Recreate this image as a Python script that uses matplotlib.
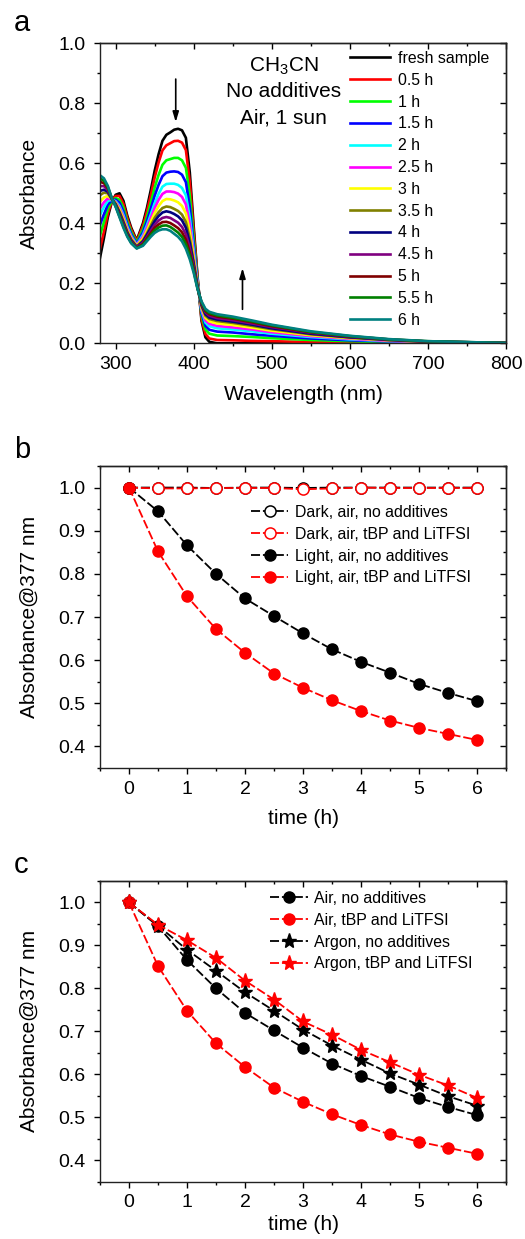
import matplotlib
matplotlib.use('Agg')
import matplotlib.pyplot as plt
from matplotlib.ticker import MultipleLocator

plt.rcParams['font.family'] = ['Liberation Sans', 'DejaVu Sans']
plt.rcParams['mathtext.fontset'] = 'custom'
plt.rcParams['mathtext.rm'] = 'Liberation Sans'
plt.rcParams['mathtext.it'] = 'Liberation Sans:italic'

# ---------------- data: panel a ----------------
wavelength = [280, 285, 290, 295, 300, 305, 310, 315, 320, 327, 335, 340, 345, 350, 355, 360, 365,
              370, 375, 380, 385, 390, 395, 400, 405, 410, 415, 420, 430, 450, 475, 500, 550, 600,
              650, 700, 800]
abs_fresh = [.285, .35, .42, .47, .495, .50, .475, .425, .385, .343, .40, .45, .51, .575, .63, .675, .695,
             .703, .712, .715, .71, .685, .57, .39, .22, .075, .02, .005, 0, 0, 0, 0, 0, 0, 0, 0, 0]
abs_0_5h = [.315, .372, .432, .472, .491, .491, .465, .417, .379, .340, .392, .438, .493, .552, .602, .643, .660,
            .667, .674, .675, .669, .644, .538, .373, .216, .082, .031, .016, .011, .010, .008, .007, .004, .003,
            .002, .001, .000]
abs_1h = [.359, .404, .448, .474, .484, .478, .451, .406, .371, .336, .380, .420, .468, .519, .561, .595, .610,
          .614, .618, .618, .610, .585, .492, .348, .209, .093, .046, .032, .026, .024, .021, .017, .011, .007,
          .004, .002, .000]
abs_1_5h = [.395, .430, .462, .476, .479, .468, .439, .397, .364, .332, .370, .406, .448, .492, .528, .557, .569,
            .572, .573, .571, .562, .537, .454, .328, .204, .101, .058, .045, .039, .036, .030, .025, .016, .010,
            .006, .003, .000]
abs_2h = [.428, .454, .475, .478, .474, .458, .428, .389, .358, .329, .361, .393, .429, .467, .498, .522, .531,
          .532, .532, .528, .518, .493, .419, .309, .199, .109, .069, .057, .050, .046, .040, .032, .021, .013,
          .007, .004, .001]
abs_2_5h = [.450, .470, .483, .479, .471, .452, .421, .383, .354, .327, .355, .384, .417, .451, .478, .498, .506,
            .506, .504, .499, .488, .463, .396, .297, .196, .114, .077, .065, .058, .053, .046, .037, .024, .015,
            .008, .004, .001]
abs_3h = [.472, .486, .491, .480, .468, .446, .414, .377, .350, .325, .349, .375, .405, .434, .457, .474, .481,
          .480, .476, .470, .458, .433, .373, .285, .193, .119, .085, .073, .066, .061, .052, .042, .027, .017,
          .010, .005, .001]
abs_3_5h = [.494, .502, .500, .481, .465, .439, .407, .372, .346, .323, .343, .366, .392, .418, .437, .451, .456,
            .454, .448, .441, .429, .404, .350, .272, .190, .124, .092, .081, .074, .068, .058, .047, .030, .019,
            .011, .005, .001]
abs_4h = [.508, .512, .505, .482, .463, .435, .402, .368, .343, .321, .339, .361, .384, .407, .424, .436, .440,
          .437, .431, .423, .410, .385, .335, .264, .188, .128, .097, .086, .079, .072, .062, .050, .032, .020,
          .011, .006, .001]
abs_4_5h = [.524, .524, .511, .483, .460, .430, .397, .364, .340, .320, .335, .354, .375, .395, .409, .418, .421,
            .418, .410, .402, .388, .363, .318, .255, .185, .132, .103, .092, .084, .077, .066, .054, .035, .022,
            .012, .006, .001]
abs_5h = [.538, .534, .517, .484, .458, .426, .392, .361, .337, .318, .331, .349, .367, .385, .396, .404, .405,
          .401, .393, .384, .370, .345, .303, .247, .183, .135, .107, .097, .089, .082, .070, .057, .037, .023,
          .013, .006, .001]
abs_5_5h = [.549, .542, .521, .484, .457, .423, .389, .358, .335, .317, .328, .344, .361, .376, .386, .392, .393,
            .388, .379, .369, .355, .330, .292, .241, .182, .137, .111, .101, .093, .085, .073, .060, .038, .024,
            .013, .007, .001]
abs_6h = [.56, .55, .525, .485, .455, .42, .385, .355, .333, .316, .325, .34, .355, .368, .376, .38, .38,
          .375, .365, .355, .34, .315, .28, .235, .18, .14, .115, .105, .097, .089, .076, .062, .04, .025,
          .014, .007, .001]

spectra = [abs_fresh, abs_0_5h, abs_1h, abs_1_5h, abs_2h, abs_2_5h, abs_3h, abs_3_5h, abs_4h,
           abs_4_5h, abs_5h, abs_5_5h, abs_6h]
spectra_labels = ['fresh sample', '0.5 h', '1 h', '1.5 h', '2 h', '2.5 h', '3 h', '3.5 h', '4 h',
                  '4.5 h', '5 h', '5.5 h', '6 h']
spectra_colors = ['#000000', '#FF0000', '#00FF00', '#0000FF', '#00FFFF', '#FF00FF', '#FFFF00',
                  '#808000', '#000080', '#800080', '#800000', '#008000', '#008080']

# ---------------- data: panels b, c ----------------
time_h = [0, 0.5, 1, 1.5, 2, 2.5, 3, 3.5, 4, 4.5, 5, 5.5, 6]
dark_air_none = [1.0, 1.0, 1.0, 0.999, 1.0, 1.0, 0.999, 1.0, 1.0, 1.0, 1.0, 1.0, 1.0]
dark_air_tbp = [1.0, 0.998, 0.998, 0.999, 0.999, 0.999, 0.996, 0.998, 1.0, 0.999, 0.999, 0.999, 0.999]
light_air_none = [1.0, 0.945, 0.866, 0.800, 0.743, 0.702, 0.662, 0.625, 0.596, 0.571, 0.545, 0.524, 0.505]
light_air_tbp = [1.0, 0.852, 0.748, 0.672, 0.617, 0.569, 0.536, 0.507, 0.482, 0.460, 0.443, 0.429, 0.415]
argon_none = [1.0, 0.946, 0.890, 0.841, 0.791, 0.748, 0.704, 0.667, 0.634, 0.602, 0.576, 0.549, 0.527]
argon_tbp = [1.0, 0.948, 0.912, 0.871, 0.818, 0.774, 0.723, 0.692, 0.657, 0.628, 0.599, 0.574, 0.545]

W, H = 525, 1239
fig = plt.figure(figsize=(W / 100, H / 100), dpi=100)

TICK_FS = 14
LABEL_FS = 15
LEG_FS = 11.4


def add_axes(left, top, right, bottom):
    return fig.add_axes([left / W, 1 - bottom / H, (right - left) / W, (bottom - top) / H])


def style_axes(ax, xmaj, xmin, ymaj, ymin, xpad=5):
    for s in ax.spines.values():
        s.set_linewidth(1.0)
        s.set_color('#222222')
    ax.xaxis.set_major_locator(MultipleLocator(xmaj))
    ax.xaxis.set_minor_locator(MultipleLocator(xmin))
    ax.yaxis.set_major_locator(MultipleLocator(ymaj))
    ax.yaxis.set_minor_locator(MultipleLocator(ymin))
    ax.tick_params(which='both', direction='out', labelsize=TICK_FS, width=1.0)
    ax.tick_params(which='major', length=4.5)
    ax.tick_params(which='minor', length=2.5)
    ax.tick_params(axis='y', pad=6)
    ax.tick_params(axis='x', pad=xpad)
    sx = ax.secondary_xaxis('top')
    sx.xaxis.set_major_locator(MultipleLocator(xmaj))
    sx.xaxis.set_minor_locator(MultipleLocator(xmin))
    sx.tick_params(which='both', direction='in', labeltop=False, width=1.0)
    sx.tick_params(which='major', length=4.5)
    sx.tick_params(which='minor', length=2.5)
    sy = ax.secondary_yaxis('right')
    sy.yaxis.set_major_locator(MultipleLocator(ymaj))
    sy.yaxis.set_minor_locator(MultipleLocator(ymin))
    sy.tick_params(which='both', direction='in', labelright=False, width=1.0)
    sy.tick_params(which='major', length=4.5)
    sy.tick_params(which='minor', length=2.5)
    for s in list(sx.spines.values()) + list(sy.spines.values()):
        s.set_linewidth(1.0)
        s.set_color('#222222')


# ---------------- panel a ----------------
axa = add_axes(100, 43.3, 506, 343.3)
for y, lab, col in zip(spectra, spectra_labels, spectra_colors):
    axa.plot(wavelength, y, color=col, lw=1.9, label=lab, solid_joinstyle='round')
axa.set_xlim(280, 800)
axa.set_ylim(0, 1.0)
style_axes(axa, 100, 50, 0.2, 0.1)
axa.set_xlabel('Wavelength (nm)', fontsize=LABEL_FS, labelpad=8)
axa.set_ylabel('Absorbance', fontsize=LABEL_FS, labelpad=14)
axa.legend(loc='upper left', bbox_to_anchor=(350 / W, 1 - 51 / H), bbox_transform=fig.transFigure,
           frameon=False, fontsize=LEG_FS, labelspacing=0.43, handlelength=2.5, handletextpad=0.55,
           borderpad=0, borderaxespad=0)
axa.text(515, 0.922, 'CH$_3$CN', fontsize=LABEL_FS, ha='center', va='center')
axa.text(515, 0.839, 'No additives', fontsize=LABEL_FS, ha='center', va='center')
axa.text(515, 0.752, 'Air, 1 sun', fontsize=LABEL_FS, ha='center', va='center')
axa.annotate('', xy=(377, 0.728), xytext=(377, 0.89),
             arrowprops=dict(arrowstyle='-|>,head_length=0.6,head_width=0.18', color='k', lw=1.2))
axa.annotate('', xy=(462.5, 0.26), xytext=(462.5, 0.104),
             arrowprops=dict(arrowstyle='-|>,head_length=0.6,head_width=0.18', color='k', lw=1.2))

DASH = (0, (5, 1.6))
MS = 8

# ---------------- panel b ----------------
axb = add_axes(100, 466, 506, 768)
axb.plot(time_h, dark_air_none, color='k', ls=DASH, lw=1.3, marker='o', ms=MS, mfc='white', mec='k',
         mew=1.1, label='Dark, air, no additives')
axb.plot(time_h, dark_air_tbp, color='#FF0000', ls=DASH, lw=1.3, marker='o', ms=MS, mfc='white',
         mec='#FF0000', mew=1.1, label='Dark, air, tBP and LiTFSI')
axb.plot(time_h, light_air_none, color='k', ls=DASH, lw=1.3, marker='o', ms=MS, mfc='k', mec='k',
         label='Light, air, no additives')
axb.plot(time_h, light_air_tbp, color='#FF0000', ls=DASH, lw=1.3, marker='o', ms=MS, mfc='#FF0000',
         mec='#FF0000', label='Light, air, tBP and LiTFSI')
axb.set_xlim(-0.5, 6.5)
axb.set_ylim(0.35, 1.05)
style_axes(axb, 1, 0.5, 0.1, 0.05)
axb.set_xlabel('time (h)', fontsize=LABEL_FS, labelpad=8)
axb.set_ylabel('Absorbance@377 nm', fontsize=LABEL_FS, labelpad=14)
axb.legend(loc='upper left', bbox_to_anchor=(251 / W, 1 - 505 / H), bbox_transform=fig.transFigure,
           frameon=False, fontsize=LEG_FS, labelspacing=0.43, handlelength=2.35, handletextpad=0.45,
           borderpad=0, borderaxespad=0)

# ---------------- panel c ----------------
axc = add_axes(100, 881, 506, 1181.7)
axc.plot(time_h, light_air_none, color='k', ls=DASH, lw=1.3, marker='o', ms=MS, mfc='k', mec='k',
         label='Air, no additives')
axc.plot(time_h, light_air_tbp, color='#FF0000', ls=DASH, lw=1.3, marker='o', ms=MS, mfc='#FF0000',
         mec='#FF0000', label='Air, tBP and LiTFSI')
axc.plot(time_h, argon_none, color='k', ls=DASH, lw=1.3, marker='*', ms=11, mfc='k', mec='k',
         label='Argon, no additives')
axc.plot(time_h, argon_tbp, color='#FF0000', ls=DASH, lw=1.3, marker='*', ms=11, mfc='#FF0000',
         mec='#FF0000', label='Argon, tBP and LiTFSI')
axc.set_xlim(-0.5, 6.5)
axc.set_ylim(0.35, 1.05)
style_axes(axc, 1, 0.5, 0.1, 0.05, xpad=4)
axc.set_xlabel('time (h)', fontsize=LABEL_FS, labelpad=3)
axc.set_ylabel('Absorbance@377 nm', fontsize=LABEL_FS, labelpad=14)
axc.legend(loc='upper left', bbox_to_anchor=(270 / W, 1 - 891 / H), bbox_transform=fig.transFigure,
           frameon=False, fontsize=LEG_FS, labelspacing=0.43, handlelength=2.4, handletextpad=0.4,
           borderpad=0, borderaxespad=0)

# panel letters
fig.text(14 / W, 1 - 31 / H, 'a', fontsize=21, va='baseline', ha='left')
fig.text(14 / W, 1 - 458 / H, 'b', fontsize=21, va='baseline', ha='left')
fig.text(14 / W, 1 - 873 / H, 'c', fontsize=21, va='baseline', ha='left')

fig.savefig('out.png', dpi=100)
